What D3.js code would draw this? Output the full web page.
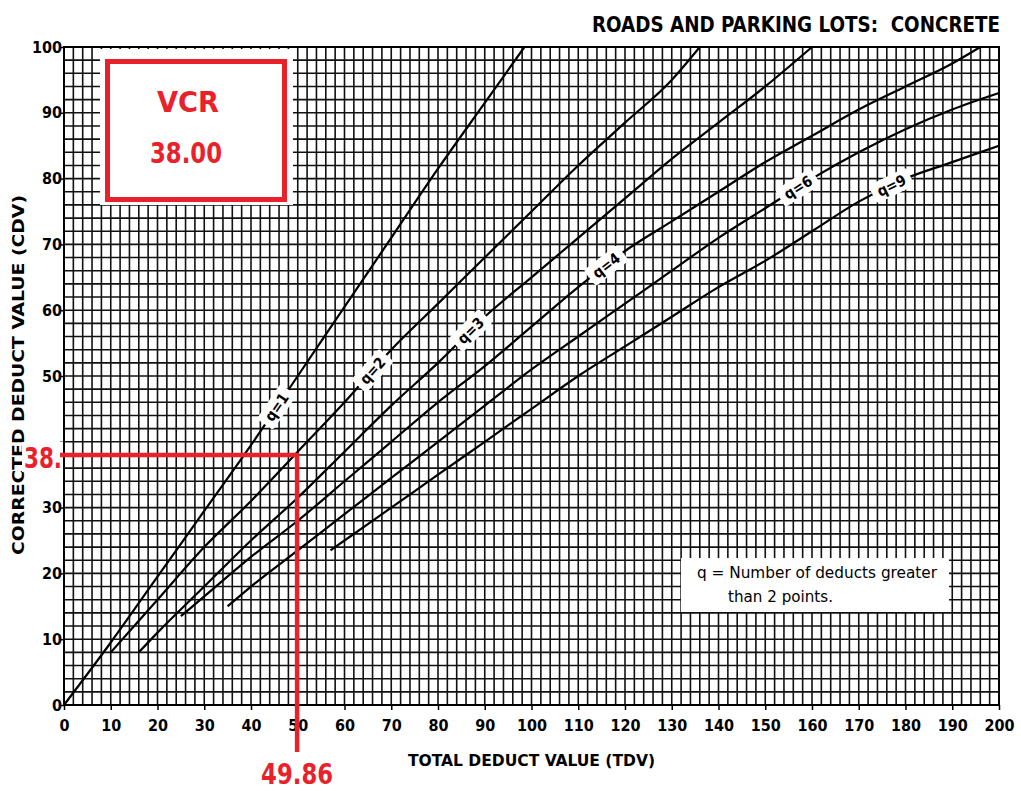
<!DOCTYPE html>
<html>
<head>
<meta charset="utf-8">
<script src="https://cdn.jsdelivr.net/npm/d3@7"></script>
<style>
  html, body { margin: 0; padding: 0; background: #fff; }
  svg { display: block; }
  text { font-family: 'Liberation Sans Narrow', 'DejaVu Sans Condensed', Arial, sans-serif; }
</style>
</head>
<body>
<svg id="chart" width="1021" height="791"></svg>
<script>
// ---- data ----
const title = "ROADS AND PARKING LOTS:  CONCRETE";
const xLabel = "TOTAL DEDUCT VALUE (TDV)";
const yLabel = "CORRECTED DEDUCT VALUE (CDV)";
const xTicks = [0,10,20,30,40,50,60,70,80,90,100,110,120,130,140,150,160,170,180,190,200];
const yTicks = [0,10,20,30,40,50,60,70,80,90,100];
const yTicksHidden = [40]; // covered by the red "38." reading in the reference

const q1 = [[0,0],[10,9.5],[20,19.5],[30,29.5],[40,39.5],[50,50],[60,60.5],[70,71],[80,81.5],[90,91.5],[98.5,100]];
const q2 = [[10,8],[20,16],[30,24],[40,31],[50,38.5],[60,46],[70,54],[80,61],[90,68],[100,75],[110,82],[120,88.5],[130,95],[136,100]];
const q3 = [[16,8],[20,11],[30,18],[40,25],[50,31.5],[60,38.5],[70,45.5],[80,52],[90,59],[100,65],[110,71],[120,77],[130,83],[140,88.5],[150,94],[160,100]];
const q4 = [[25,13.5],[30,16.5],[40,22.5],[50,28],[60,34],[70,40],[80,46],[90,51.5],[100,57.5],[110,63.5],[120,69],[130,73.5],[140,78],[150,82.5],[160,86.5],[170,90.5],[180,94],[190,97.5],[196,100]];
const q6 = [[35,15],[40,18],[50,23.5],[60,29],[70,34.5],[80,40],[90,45.5],[100,51],[110,56],[120,61],[130,66],[140,71],[150,75.5],[160,80],[170,84],[180,87.5],[190,90.5],[200,93]];
const q9 = [[57,23.5],[60,25],[70,30],[80,35],[90,40],[100,45],[110,50],[120,54.5],[130,59],[140,63.5],[150,67.5],[160,72],[170,76.5],[180,80],[190,82.5],[200,85]];
const curveNames = ["q=1","q=2","q=3","q=4","q=6","q=9"];
const curveData = [q1,q2,q3,q4,q6,q9];
const labelAt = [45.5, 66, 87, 116, 157, 177]; // TDV where each curve label sits

const legendLines = ["q = Number of deducts greater", "than 2 points."];
const vcrLabel = "VCR";
const tdvValue = 49.86;
const cdvValue = 38;
const vcrText = "38.00";
const cdvText = "38.";

// ---- layout ----
const svg = d3.select("#chart");
const x = d3.scaleLinear().domain([0,200]).range([64,999]);
const y = d3.scaleLinear().domain([0,100]).range([705,47]);
const RED = "#e9212b";

// grid
const grid = svg.append("g");
grid.selectAll("line.v").data(d3.range(0,201,2)).join("line")
  .attr("x1", d=>x(d)).attr("x2", d=>x(d)).attr("y1", y(0)).attr("y2", y(100))
  .attr("stroke", "#111").attr("stroke-width", 1.6);
grid.selectAll("line.h").data(d3.range(0,101,2)).join("line")
  .attr("y1", d=>y(d)).attr("y2", d=>y(d)).attr("x1", x(0)).attr("x2", x(200))
  .attr("stroke", "#111").attr("stroke-width", 1.6);
svg.append("rect").attr("x", x(0)).attr("y", y(100)).attr("width", x(200)-x(0)).attr("height", y(0)-y(100))
  .attr("fill","none").attr("stroke","#000").attr("stroke-width",2);

// axes
const xAxis = d3.axisBottom(x).tickValues(xTicks).tickSize(5).tickFormat(d3.format("d"));
const gx = svg.append("g").attr("transform", `translate(0,${y(0)})`).call(xAxis);
gx.select(".domain").remove();
gx.selectAll("line").attr("stroke","#000").attr("stroke-width",1.5);
gx.selectAll("text").attr("font-size", 16).attr("font-weight","bold").attr("fill","#000").attr("dy","1.1em");

const yAxis = d3.axisLeft(y).tickValues(yTicks).tickSize(4)
  .tickFormat(d => yTicksHidden.includes(d) ? "" : d3.format("d")(d));
const gy = svg.append("g").attr("transform", `translate(${x(0)},0)`).call(yAxis);
gy.select(".domain").remove();
gy.selectAll("line").attr("stroke","#000").attr("stroke-width",1.5);
gy.selectAll("text").attr("font-size", 16).attr("font-weight","bold").attr("fill","#000").attr("x",-2);

// titles
svg.append("text").attr("x", 592).attr("y", 32)
  .attr("font-size", 21).attr("font-weight","bold").style("white-space","pre")
  .attr("textLength", 408).attr("lengthAdjust","spacingAndGlyphs").text(title);
svg.append("text").attr("x", 408).attr("y", 766)
  .attr("font-size", 16).attr("font-weight","bold")
  .attr("textLength", 247).attr("lengthAdjust","spacingAndGlyphs").text(xLabel);
svg.append("text").attr("transform", "translate(24,555) rotate(-90)")
  .attr("font-size", 16).attr("font-weight","bold")
  .attr("textLength", 360).attr("lengthAdjust","spacingAndGlyphs").text(yLabel);

// curves
const line = d3.line().x(d=>x(d[0])).y(d=>y(d[1])).curve(d3.curveMonotoneX);
svg.append("g").selectAll("path").data(curveData).join("path")
  .attr("d", line).attr("fill","none").attr("stroke","#000").attr("stroke-width",2.2);

// curve labels
curveData.forEach((pts, i) => {
  const t = labelAt[i];
  const interp = v => {
    for (let k=1;k<pts.length;k++) if (v<=pts[k][0]) {
      const a=pts[k-1], b=pts[k]; return a[1]+(b[1]-a[1])*(v-a[0])/(b[0]-a[0]);
    }
    return pts[pts.length-1][1];
  };
  const px = x(t), py = y(interp(t));
  const ang = Math.atan2(y(interp(t+3))-y(interp(t-3)), x(t+3)-x(t-3))*180/Math.PI;
  const g = svg.append("g").attr("transform", `translate(${px},${py}) rotate(${ang})`);
  g.append("rect").attr("x",-21).attr("y",-10).attr("width",42).attr("height",20).attr("rx",3).attr("fill","#fff");
  g.append("text").attr("text-anchor","middle").attr("dy","0.35em").attr("font-size",15).attr("font-weight","bold").text(curveNames[i]);
});

// legend box
svg.append("rect").attr("x",681).attr("y",558).attr("width",268).attr("height",54).attr("fill","#fff");
svg.append("text").attr("x",697).attr("y",578).attr("font-size",15)
  .attr("textLength",240).attr("lengthAdjust","spacingAndGlyphs").text(legendLines[0]);
svg.append("text").attr("x",728).attr("y",602).attr("font-size",15)
  .attr("textLength",105).attr("lengthAdjust","spacingAndGlyphs").text(legendLines[1]);

// VCR box
svg.append("rect").attr("x",100).attr("y",49).attr("width",193).attr("height",156).attr("fill","#fff");
svg.append("rect").attr("x",107.5).attr("y",61.5).attr("width",177).attr("height",138).attr("fill","none").attr("stroke",RED).attr("stroke-width",5);
svg.append("text").attr("x",188).attr("y",112).attr("text-anchor","middle").attr("font-size",29).attr("font-weight","bold").attr("fill",RED)
  .attr("textLength",62).attr("lengthAdjust","spacingAndGlyphs").text(vcrLabel);
svg.append("text").attr("x",186).attr("y",163).attr("text-anchor","middle").attr("font-size",29).attr("font-weight","bold").attr("fill",RED)
  .attr("textLength",72).attr("lengthAdjust","spacingAndGlyphs").text(vcrText);

// red reading lines
svg.append("rect").attr("x",22).attr("y",y(cdvValue)-13).attr("width",41).attr("height",30).attr("fill","#fff");
svg.append("line").attr("x1", x(0)-4).attr("x2", x(tdvValue)).attr("y1", y(cdvValue)).attr("y2", y(cdvValue))
  .attr("stroke",RED).attr("stroke-width",4.5);
svg.append("line").attr("x1", x(tdvValue)).attr("x2", x(tdvValue)).attr("y1", y(cdvValue)-2).attr("y2", 752)
  .attr("stroke",RED).attr("stroke-width",4.5);
svg.append("text").attr("x", 24).attr("y", y(cdvValue)+13).attr("font-size",29).attr("font-weight","bold").attr("fill",RED)
  .attr("textLength",38).attr("lengthAdjust","spacingAndGlyphs").text(cdvText);
svg.append("text").attr("x", x(tdvValue)).attr("y", 784).attr("text-anchor","middle").attr("font-size",29).attr("font-weight","bold").attr("fill",RED)
  .attr("textLength",72).attr("lengthAdjust","spacingAndGlyphs").text(tdvValue.toFixed(2));
</script>
</body>
</html>
